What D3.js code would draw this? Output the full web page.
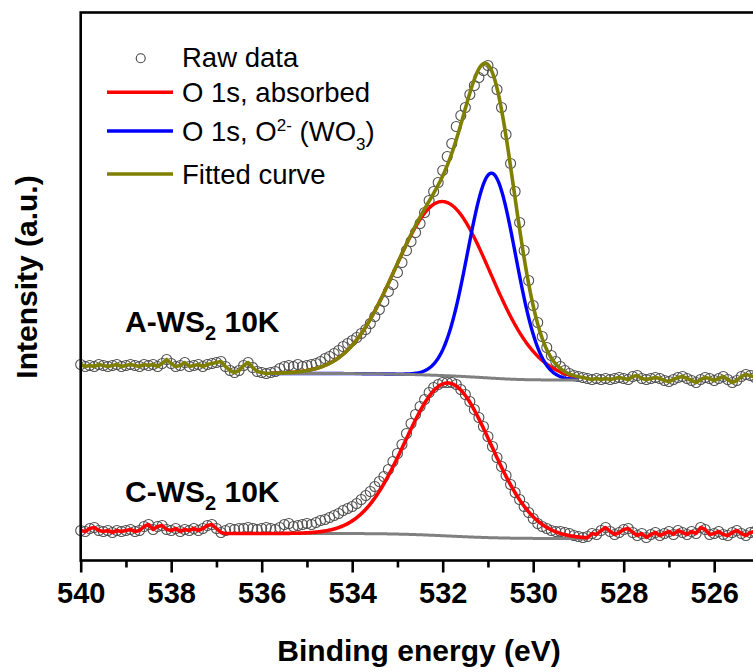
<!DOCTYPE html>
<html>
<head>
<meta charset="utf-8">
<script src="https://cdn.jsdelivr.net/npm/d3@7"></script>
<style>
    body { margin: 0; background: #fff; }
    svg { display: block; font-family: "Liberation Sans", Arial, sans-serif; }
</style>
</head>
<body>
<div class="svg"></div>
<script>
// measurement grid, 0.1 eV steps from 540 eV down to 525 eV
var energies = d3.range(0, 151).map(function (i) { return +(540 - i * 0.1).toFixed(1); });

// raw counts (a.u.)
var rawA = [196, 194, 195, 194, 196, 195, 194, 195, 196, 194, 195,
    196, 195, 194, 196, 195, 196, 194, 197, 201, 197,
    194, 195, 198, 194, 195, 196, 194, 196, 197, 198,
    199, 194, 190, 188, 190, 195, 198, 193, 189, 188,
    187, 188, 189, 192, 194, 195, 194, 196, 194, 195,
    196, 197, 199, 202, 204, 207, 210, 214, 217, 220,
    223, 227, 231, 237, 244, 251, 259, 269, 276, 288,
    298, 310, 319, 328, 337, 348, 360, 369, 378, 390,
    404, 417, 434, 445, 453, 466, 475, 483, 490, 495,
    488, 471, 453, 426, 397, 369, 338, 310, 280, 255,
    238, 224, 213, 205, 199, 194, 190, 187, 185, 184,
    183, 182, 181, 182, 181, 182, 181, 182, 183, 182,
    181, 184, 185, 182, 181, 182, 183, 182, 180, 179,
    181, 183, 184, 182, 180, 178, 181, 183, 182, 180,
    182, 184, 181, 178, 180, 184, 186, 185, 183, 181];

var rawC = [30, 29, 32, 33, 30, 29, 30, 28, 30, 29, 30,
    31, 29, 30, 34, 36, 31, 34, 35, 31, 30,
    32, 29, 31, 30, 32, 30, 32, 35, 36, 32,
    28, 30, 32, 31, 32, 32, 33, 32, 31, 32,
    33, 32, 31, 33, 36, 37, 34, 35, 36, 37,
    36, 38, 40, 41, 43, 45, 47, 50, 52, 54,
    57, 61, 65, 69, 74, 79, 84, 91, 99, 107,
    116, 127, 137, 146, 154, 161, 168, 173, 176, 178,
    178, 178, 176, 171, 166, 159, 151, 143, 134, 124,
    114, 103, 94, 85, 76, 68, 61, 54, 48, 42,
    37, 34, 32, 30, 29, 29, 28, 27, 25, 24,
    23, 24, 27, 26, 30, 33, 29, 26, 28, 31,
    32, 28, 25, 27, 23, 26, 28, 25, 27, 29,
    26, 30, 28, 26, 29, 27, 33, 31, 26, 27,
    29, 26, 25, 28, 30, 27, 25, 28, 29, 27];

// fit parameters (gaussian components + shirley type background)
var fitRangeA = [535.8, 529.0];
var bgA = [187, 180.5];              // background at high / low BE end
var centersA = [532.0, 530.92];      // absorbed, O2- (WO3)
var heightsA = [174, 205];
var sigmasA = [1.05, 0.53];

var fitRangeC = [536.8, 528.8];
var bgC = [27, 22];
var centersC = [531.88];
var heightsC = [153];
var sigmasC = [0.95];

var majorTicks = [540, 538, 536, 534, 532, 530, 528, 526];
var minorTicks = [539, 537, 535, 533, 531, 529, 527, 525];
var sampleNames = ["A", "C"];

var width, height, x, y, svg, line;

var setupConfig = function () {
    width = 753;
    height = 672;
};

var setupD3 = function () {
    x = d3.scaleLinear().domain([540, 524]).range([80.7, 80.7 + 16 * 45.25]);
    y = d3.scaleLinear().domain([0, 548]).range([560.5, 12.5]);
    line = d3.line()
        .x(function (d) { return x(d[0]); })
        .y(function (d) { return y(d[1]); });
};

var setupSVG = function () {
    svg = d3.select("div.svg")
        .append("svg")
        .attr("width", width)
        .attr("height", height);
};

var gauss = function (e, c, h, s) {
    return h * Math.exp(-(e - c) * (e - c) / (2 * s * s));
};

var buildFit = function (range, bg, centers, heights, sigmas) {
    var grid = d3.range(range[0], range[1] - 0.001, -0.02);
    var comps = centers.map(function (c, k) {
        return grid.map(function (e) { return gauss(e, c, heights[k], sigmas[k]); });
    });
    var sum = grid.map(function (e, j) {
        return d3.sum(comps, function (cp) { return cp[j]; });
    });
    // shirley: step grows with the peak area on the low BE side
    var total = d3.sum(sum), acc = 0, back = [];
    for (var j = grid.length - 1; j >= 0; j--) {
        acc += sum[j];
        back[j] = bg[1] + (bg[0] - bg[1]) * acc / total;
    }
    return {grid: grid, comps: comps, sum: sum, back: back};
};

// raw outside the fit window, fitted envelope inside it
var envelope = function (raw, range, fit) {
    var pts = [];
    energies.forEach(function (e, i) { if (e > range[0] + 1e-6) pts.push([e, raw[i]]); });
    fit.grid.forEach(function (e, j) { pts.push([e, fit.back[j] + fit.sum[j]]); });
    energies.forEach(function (e, i) { if (e < range[1] - 1e-6) pts.push([e, raw[i]]); });
    return pts;
};

var drawCircles = function (raw) {
    svg.append("g").selectAll("circle")
        .data(raw)
        .enter()
        .append("circle")
        .attr("cx", function (d, i) { return x(energies[i]); })
        .attr("cy", function (d) { return y(d); })
        .attr("r", 5)
        .style("fill", "none")
        .style("stroke", "#505050")
        .style("stroke-width", 1.1);
};

var drawPath = function (pts, color, w) {
    svg.append("path")
        .datum(pts)
        .attr("d", line)
        .style("fill", "none")
        .style("stroke", color)
        .style("stroke-width", w)
        .style("stroke-linejoin", "round");
};

var drawSpectra = function () {
    var fitA = buildFit(fitRangeA, bgA, centersA, heightsA, sigmasA);
    var fitC = buildFit(fitRangeC, bgC, centersC, heightsC, sigmasC);

    drawCircles(rawA);
    ["#ff0000", "#0000ff"].forEach(function (col, k) {
        drawPath(fitA.grid.map(function (e, j) { return [e, fitA.back[j] + fitA.comps[k][j]]; }), col, 3.4);
    });
    drawPath(fitA.grid.map(function (e, j) { return [e, fitA.back[j]]; }), "#808080", 3);
    drawPath(envelope(rawA, fitRangeA, fitA), "#808000", 3.6);

    drawCircles(rawC);
    drawPath(fitC.grid.map(function (e, j) { return [e, fitC.back[j]]; }), "#808080", 3);
    drawPath(envelope(rawC, fitRangeC, fitC), "#ff0000", 3.6);
};

var drawAxes = function () {
    var minor = svg.append("g")
        .attr("transform", "translate(0," + y(0) + ")")
        .call(d3.axisBottom(x).tickValues(minorTicks).tickSize(7).tickFormat(""));
    var major = svg.append("g")
        .attr("transform", "translate(0," + y(0) + ")")
        .call(d3.axisBottom(x).tickValues(majorTicks).tickSize(12).tickPadding(10).tickFormat(d3.format("d")));
    [minor, major].forEach(function (g) {
        g.select(".domain").remove();
        g.selectAll("line").style("stroke", "#000").style("stroke-width", 2.6);
    });
    major.selectAll("text")
        .style("font-size", "29px")
        .style("font-weight", "bold")
        .style("fill", "#000");

    svg.append("rect")
        .attr("x", x(540))
        .attr("y", y(548))
        .attr("width", x(524) - x(540))
        .attr("height", y(0) - y(548))
        .style("fill", "none")
        .style("stroke", "#000")
        .style("stroke-width", 2.6);

    svg.append("text")
        .attr("x", 419)
        .attr("y", 661)
        .attr("text-anchor", "middle")
        .style("font-size", "30px")
        .style("font-weight", "bold")
        .text("Binding energy (eV)");

    svg.append("text")
        .attr("transform", "translate(37,277) rotate(-90)")
        .attr("text-anchor", "middle")
        .style("font-size", "30px")
        .style("font-weight", "bold")
        .text("Intensity (a.u.)");
};

var drawLabels = function () {
    var rows = [332, 501.7];
    sampleNames.forEach(function (name, k) {
        var t = svg.append("text")
            .attr("x", 125)
            .attr("y", rows[k])
            .style("font-size", "30px")
            .style("font-weight", "bold");
        t.append("tspan").text(name + "-WS");
        t.append("tspan").attr("dy", 8).style("font-size", "20px").text("2");
        t.append("tspan").attr("dy", -8).text(" 10K");
    });
};

var drawLegend = function () {
    var g = svg.append("g").style("font-size", "27.5px");
    var tx = 182;

    g.append("circle")
        .attr("cx", 140.7).attr("cy", 58.3).attr("r", 4.5)
        .style("fill", "none").style("stroke", "#404040").style("stroke-width", 1.1);
    g.append("text").attr("x", tx).attr("y", 67).text("Raw data");

    [["#ff0000", 92.3], ["#0000ff", 131], ["#808000", 174]].forEach(function (d) {
        g.append("line")
            .attr("x1", 107).attr("x2", 173)
            .attr("y1", d[1]).attr("y2", d[1])
            .style("stroke", d[0]).style("stroke-width", 3.4);
    });

    g.append("text").attr("x", tx).attr("y", 102).text("O 1s, absorbed");

    var t = g.append("text").attr("x", tx).attr("y", 140.5);
    t.append("tspan").text("O 1s, O");
    t.append("tspan").attr("dy", -10).style("font-size", "17px").text("2-");
    t.append("tspan").attr("dy", 10).text(" (WO");
    t.append("tspan").attr("dy", 9).style("font-size", "17px").text("3");
    t.append("tspan").attr("dy", -9).text(")");

    g.append("text").attr("x", tx).attr("y", 183.5).text("Fitted curve");
};

setupConfig();
setupD3();
setupSVG();
drawSpectra();
drawAxes();
drawLabels();
drawLegend();
</script>
</body>
</html>
